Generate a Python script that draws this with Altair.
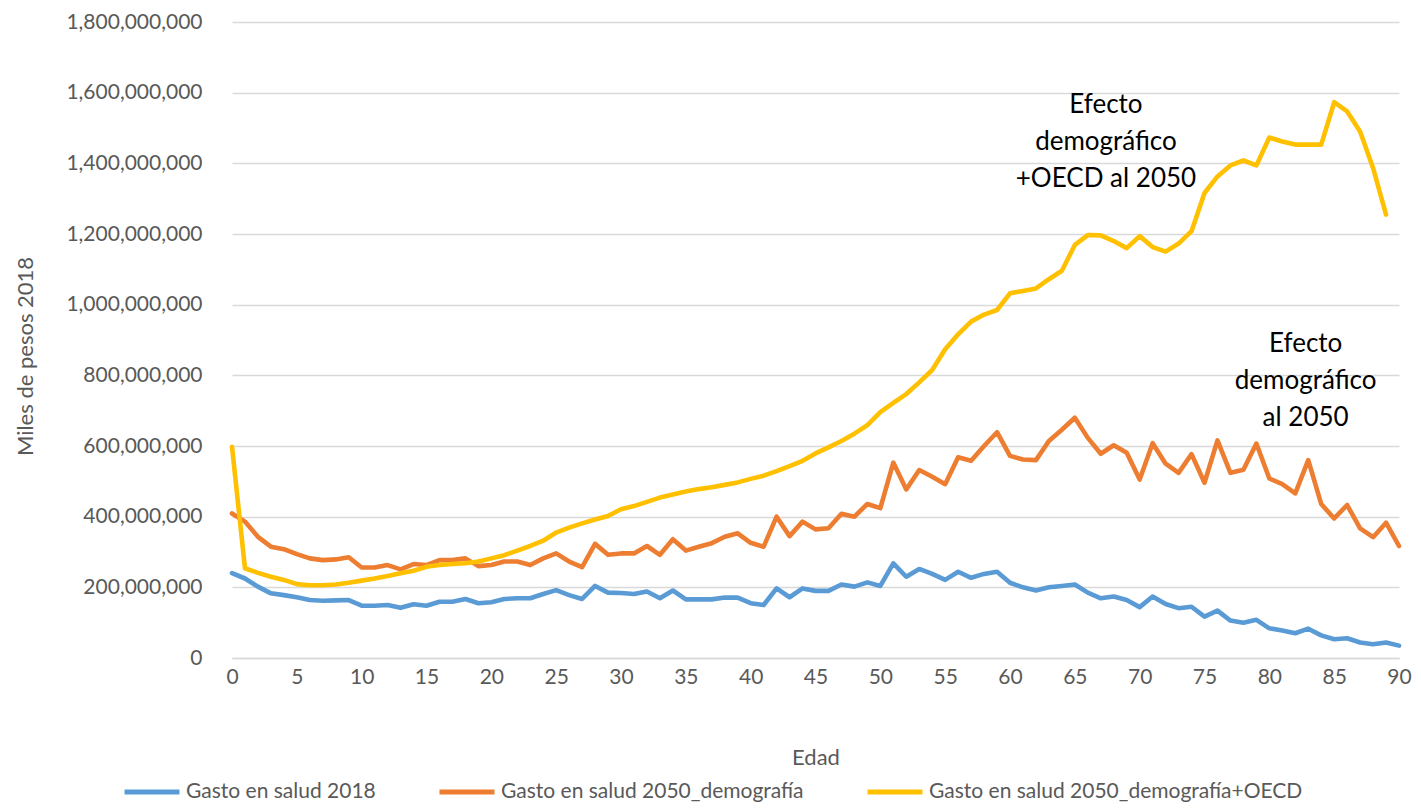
import altair as alt
import pandas as pd

# ---- data (values in millions of "miles de pesos 2018") ----
ages = list(range(91))

gasto_2018 = [240, 225, 202, 183, 178, 172, 164, 162, 163, 164,
              148, 148, 150, 142, 152, 148, 159, 159, 167, 155,
              158, 167, 169, 169, 181, 192, 178, 167, 204, 185,
              184, 181, 188, 169, 191, 166, 166, 166, 171, 171,
              155, 150, 197, 172, 197, 190, 190, 208, 202, 214,
              204, 268, 230, 252, 238, 221, 244, 227, 238, 244,
              213, 200, 191, 200, 204, 208, 185, 169, 174, 164,
              144, 174, 153, 141, 145, 117, 134, 106, 100, 108,
              84, 78, 70, 83, 64, 53, 56, 44, 39, 44,
              35]

gasto_2050_demo = [409, 386, 343, 315, 308, 294, 282, 277, 279, 285,
                   256, 256, 263, 251, 266, 263, 277, 277, 282, 260,
                   263, 273, 273, 263, 282, 296, 273, 257, 323, 292,
                   296, 296, 317, 292, 336, 304, 315, 325, 343, 353,
                   326, 315, 400, 345, 386, 364, 367, 408, 400, 436,
                   424, 553, 477, 532, 513, 492, 568, 558, 600, 639,
                   572, 562, 560, 614, 646, 680, 623, 578, 602, 581,
                   505, 608, 550, 524, 577, 496, 616, 524, 533, 607,
                   508, 492, 466, 560, 436, 395, 433, 367, 342, 383,
                   317]

gasto_2050_oecd = [598, 254, 241, 230, 221, 209, 206, 206, 208, 213,
                   219, 225, 232, 240, 247, 258, 263, 266, 268, 273,
                   282, 291, 304, 317, 332, 355, 369, 381, 392, 402,
                   421, 430, 442, 454, 463, 471, 478, 483, 490, 497,
                   507, 516, 529, 543, 558, 579, 596, 614, 635, 659,
                   696, 722, 747, 780, 815, 874, 916, 952, 972, 985,
                   1032, 1039, 1046, 1072, 1096, 1169, 1197, 1196, 1180, 1160,
                   1194, 1163, 1150, 1173, 1208, 1316, 1363, 1394, 1408, 1394,
                   1473, 1462, 1453, 1453, 1453, 1573, 1547, 1490, 1387, 1255]

series_names = ["Gasto en salud 2018",
                "Gasto en salud 2050_demografía",
                "Gasto en salud 2050_demografía+OECD"]
series_colors = ["#5B9BD5", "#ED7D31", "#FFC000"]

y_ticks = [0, 200e6, 400e6, 600e6, 800e6, 1000e6, 1200e6, 1400e6, 1600e6, 1800e6]
x_ticks = list(range(0, 91, 5))

ann_text = ["Efecto\ndemográfico\n+OECD al 2050", "Efecto\ndemográfico\nal 2050"]
ann_age = [67.4, 82.8]
ann_val = [1566e6, 889e6]

# ---- build table ----
rows = []
for order, (name, vals) in enumerate(zip(series_names, [gasto_2018, gasto_2050_demo, gasto_2050_oecd])):
    for a, v in zip(ages, vals):
        rows.append({"Edad": a, "Serie": name, "Valor": v * 1e6, "k": order})
df = pd.DataFrame(rows)
ann_df = pd.DataFrame({"x": ann_age, "y": ann_val, "t": ann_text})

GREY = "#595959"
FONT = "Lato"

x_enc = alt.X("Edad:Q",
              scale=alt.Scale(domain=[0, 90], nice=False, zero=False),
              axis=alt.Axis(values=x_ticks, grid=False, domain=True, domainColor="#d9d9d9",
                            domainWidth=1.3, ticks=False, labelPadding=8, labelFontSize=21,
                            labelColor=GREY, labelFlush=False, labelOverlap=False,
                            title="Edad", titleFontSize=22, titleColor=GREY,
                            titleFontWeight="normal", titleY=99, titleBaseline="middle"))
y_enc = alt.Y("Valor:Q",
              scale=alt.Scale(domain=[0, 1.8e9], nice=False),
              axis=alt.Axis(values=y_ticks, format=",d", grid=True, gridColor="#d9d9d9",
                            gridWidth=1.3, domain=False, ticks=False, labelPadding=30,
                            labelFontSize=21, labelColor=GREY, labelOverlap=False,
                            title="Miles de pesos 2018", titleFontSize=22, titleColor=GREY,
                            titleFontWeight="normal", titleX=-207, titleY=334,
                            titleBaseline="middle", titleAngle=270))

lines = alt.Chart(df).mark_line(strokeWidth=4.6, strokeJoin="round", strokeCap="round").encode(
    x=x_enc,
    y=y_enc,
    color=alt.Color("Serie:N",
                    scale=alt.Scale(domain=series_names, range=series_colors),
                    legend=alt.Legend(orient="none", legendX=-110, legendY=740,
                                      direction="horizontal", title=None,
                                      symbolType="stroke", symbolSize=3025,
                                      symbolStrokeWidth=5, labelFontSize=21,
                                      labelColor=GREY, labelOffset=4, columnPadding=53,
                                      labelLimit=0)),
    order=alt.Order("k:Q"),
)

ann = alt.Chart(ann_df).mark_text(fontSize=26, color="#000000", lineBreak="\n",
                                  lineHeight=37, align="center", baseline="middle").encode(
    x=alt.X("x:Q"), y=alt.Y("y:Q"), text="t:N")

chart = alt.layer(lines, ann).properties(
    width=1167, height=636,
    autosize=alt.AutoSizeParams(type="none"),
    padding={"left": 224, "top": 14, "right": 14, "bottom": 144},
).configure(font=FONT).configure_view(stroke=None)

chart.save("out.html", embed_options={"renderer": "svg", "actions": False})
